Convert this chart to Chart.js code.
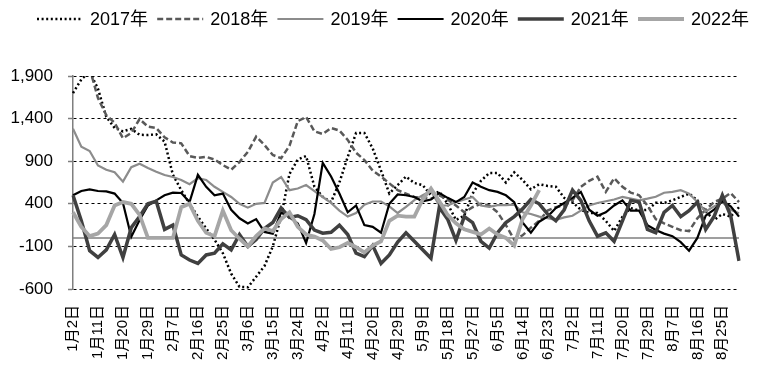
<!DOCTYPE html>
<html>
<head>
<meta charset="utf-8">
<script src="https://cdn.jsdelivr.net/npm/chart.js@4/dist/chart.umd.min.js"></script>
<style>
  html, body { margin: 0; padding: 0; background: #fff; }
</style>
</head>
<body>
<canvas id="chart" width="765" height="374"></canvas>
<script>
// series names (legend)
const years = ['2017年', '2018年', '2019年', '2020年', '2021年', '2022年'];

// every 9th day gets a label, data is sampled every 3 days
const tickLabels = ['1月2日', '1月11日', '1月20日', '1月29日', '2月7日', '2月16日', '2月25日',
  '3月6日', '3月15日', '3月24日', '4月2日', '4月11日', '4月20日', '4月29日', '5月9日',
  '5月18日', '5月27日', '6月5日', '6月14日', '6月23日', '7月2日', '7月11日', '7月20日',
  '7月29日', '8月7日', '8月16日', '8月25日'];

const yTicks = [-600, -100, 400, 900, 1400, 1900];

const v2017 = [1700, 1860, 1950, 1750, 1420, 1290, 1250, 1280, 1210, 1207,
  1215, 1130, 740, 560, 400, 250, 110, -20, -180, -420,
  -575, -580, -456, -330, -100, 250, 750, 920, 960, 600,
  483, 420, 650, 950, 1230, 1231, 1050, 790, 520, 620,
  720, 644, 620, 500, 545, 400, 210, 260, 520, 670,
  761, 761, 650, 770, 680, 570, 630, 610, 600, 470,
  420, 330, 292, 292, 200, 80, 248, 350, 320, 330,
  411, 411, 440, 480, 520, 440, 310, 210, 280, 250, 360];

const v2018 = [null, null, 1990, 1640, 1440, 1350, 1170, 1231, 1395, 1305,
  1290, 1180, 1120, 1110, 960, 938, 950, 920, 855, 800,
  890, 1010, 1188, 1090, 973, 935, 1080, 1370, 1420, 1250,
  1220, 1290, 1260, 1150, 1000, 914, 790, 720, 640, 560,
  520, 480, 470, 460, 500, 450, 380, 300, 360, 400,
  380, 300, 150, -20, 30, 120, 200, 320, 360, 380,
  440, 600, 670, 718, 540, 700, 600, 530, 500, 380,
  220, 170, 130, 90, 80, 230, 330, 420, 460, 527, 420];

const v2019 = [1280, 1070, 1020, 850, 800, 770, 660, 830, 870, 820,
  777, 738, 715, 680, 630, 700, 680, 600, 540, 480,
  400, 355, 400, 410, 650, 715, 560, 580, 620, 550,
  480, 410, 320, 250, 292, 390, 427, 427, 370, 292,
  365, 444, 500, 550, 380, 380, 420, 450, 480, 380,
  365, 385, 385, 390, 300, 280, 250, 230, 210, 240,
  260, 320, 380, 410, 430, 450, 480, 460, 440, 460,
  483, 530, 540, 560, 520, 420, 310, 370, 420, 330, 290];

const v2020 = [500, 550, 570, 550, 545, 520, 410, 12, 210, 380,
  440, 500, 530, 527, 420, 740, 600, 500, 520, 330,
  230, 170, 220, 70, 50, 300, 240, 170, -60, 280,
  880, 720, 520, 300, 380, 150, 130, 60, 400, 510,
  500, 480, 430, 450, 527, 470, 420, 480, 650, 600,
  560, 540, 500, 420, 180, 60, 190, 250, 350, 410,
  470, 540, 330, 260, 300, 380, 440, 320, 320, 150,
  92, 50, 20, -50, -150, 0, 260, 330, 430, 370, 250];

const v2021 = [500, 200, -150, -230, -140, 40, -230, 120, 250, 400,
  430, 100, 150, -200, -260, -300, -200, -180, -70, -140,
  40, -100, -20, 110, 180, 350, 240, 260, 215, 92,
  55, 65, 150, 40, -180, -220, -90, -300, -200, -50,
  60, -40, -140, -240, 360, 220, -30, 250, 180, -40,
  -120, 60, 180, 250, 340, 450, 400, 280, 200, 330,
  560, 440, 200, 20, 60, -40, 200, 440, 420, 100,
  60, 300, 380, 250, 320, 420, 100, 250, 500, 260, -270];

const v2022 = [300, 130, 20, 50, 150, 380, 420, 400, 270, 0,
  0, 0, 0, 360, 400, 200, 60, 20, 320, 90,
  -10, -100, 20, 110, 80, 220, 300, 130, 40, 15,
  -30, -130, -110, -60, -110, -170, -90, -40, 200, 260,
  250, 250, 450, 580, 430, 270, 170, 100, 70, 40,
  110, 40, 0, -90, 220, 380, 560];

const seriesValues = [v2017, v2018, v2019, v2020, v2021, v2022];

// look of each series
const lineColors = ['#000000', '#595959', '#8c8c8c', '#000000', '#404040', '#a6a6a6'];
const lineWidths = [2.5, 2.5, 2.2, 2.2, 3.5, 3.8];
const lineDashes = [[2, 2.6], [6, 3], [], [], [], []];

// one category every 3 days, label on every third one
const categories = [];
for (let i = 0; i < 81; i++) {
  categories.push(i % 3 === 0 && tickLabels[i / 3] ? tickLabels[i / 3] : '');
}

const datasets = seriesValues.map((vals, i) => ({
  label: years[i],
  data: vals,
  borderColor: lineColors[i],
  backgroundColor: lineColors[i],
  borderWidth: lineWidths[i],
  borderDash: lineDashes[i],
  pointRadius: 0,
  tension: 0,
  fill: false,
  order: years.length - i   // later years on top
}));

const latin = '"Liberation Sans", "Noto Sans CJK SC", sans-serif';

// horizontal axis line at 0
const zeroLine = {
  id: 'zeroLine',
  beforeDatasetsDraw(chart) {
    const { ctx, chartArea, scales } = chart;
    const py = scales.y.getPixelForValue(0);
    ctx.save();
    ctx.strokeStyle = '#7f7f7f';
    ctx.lineWidth = 1.5;
    ctx.beginPath();
    ctx.moveTo(chartArea.left, py);
    ctx.lineTo(chartArea.right, py);
    ctx.stroke();
    ctx.restore();
  }
};

// legend in one row across the top, line samples use the dataset styles
const legendRow = {
  id: 'legendRow',
  afterDraw(chart) {
    const ctx = chart.ctx;
    const y = 19;
    chart.data.datasets.forEach((ds, i) => {
      const x0 = 37 + i * 120.2;
      ctx.save();
      ctx.strokeStyle = ds.borderColor;
      ctx.lineWidth = ds.borderWidth;
      ctx.setLineDash(ds.borderDash);
      ctx.beginPath();
      ctx.moveTo(x0, y);
      ctx.lineTo(x0 + 46, y);
      ctx.stroke();
      ctx.setLineDash([]);
      ctx.fillStyle = '#000';
      ctx.font = '18px ' + latin;
      ctx.textBaseline = 'middle';
      ctx.fillText(ds.label, x0 + 53, y + 1);
      ctx.restore();
    });
  }
};

new Chart(document.getElementById('chart'), {
  type: 'line',
  data: { labels: categories, datasets: datasets },
  options: {
    responsive: false,
    animation: false,
    devicePixelRatio: 1,
    layout: { padding: { top: 76, left: 0, right: 13, bottom: 0 } },
    plugins: {
      tooltip: { enabled: false },
      legend: { display: false }
    },
    scales: {
      x: {
        type: 'category',
        offset: false,
        grid: { display: false },
        border: { display: false },
        ticks: {
          autoSkip: false,
          maxRotation: 90,
          minRotation: 90,
          padding: 8,
          color: '#000',
          font: { family: latin, size: 15 }
        },
        afterFit(scale) { scale.height = 85; }
      },
      y: {
        min: -600,
        max: 1900,
        afterBuildTicks(scale) { scale.ticks = yTicks.map(v => ({ value: v })); },
        grid: {
          color: '#000',
          lineWidth: 1,
          drawTicks: true,
          tickLength: 5,
          tickColor: '#7f7f7f',
          tickWidth: 1.5,
          tickBorderDash: []
        },
        border: { display: true, color: '#7f7f7f', width: 1.5, dash: [3, 3] },
        ticks: {
          padding: 15,
          color: '#000',
          font: { family: latin, size: 17 }
        },
        afterFit(scale) { scale.width = 73; }
      }
    }
  },
  plugins: [zeroLine, legendRow]
});
</script>
</body>
</html>
